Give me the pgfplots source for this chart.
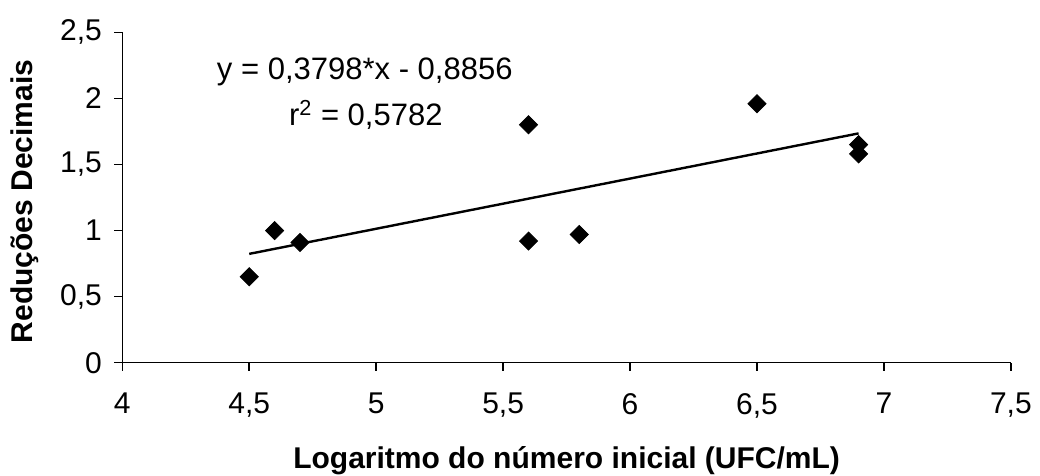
\documentclass[border=0pt]{standalone}
\usepackage{fontspec}
\setmainfont{Liberation Sans}
\usepackage{pgfplots}
\pgfplotsset{compat=1.18}
\begin{document}
\fontsize{15}{18}\selectfont
\begin{tikzpicture}
\path[use as bounding box] (0,0) rectangle (520pt,238pt);
\begin{axis}[
  at={(61.15pt,56.65pt)}, anchor=south west,
  scale only axis, width=444.3pt, height=165.2pt,
  xmin=4, xmax=7.5, ymin=0, ymax=2.5,
  xtick={4,4.5,...,7.5}, ytick={0,0.5,...,2.5},
  axis x line*=bottom, axis y line*=left,
  axis line style={black, line width=0.75pt},
  tick style={black, line width=0.75pt},
  tick align=outside, major tick length=4pt,
  /pgf/number format/assume math mode=true,
  /pgf/number format/use comma,
  /pgf/number format/fixed,
  ticklabel style={font=\fontsize{15}{18}\selectfont},
  xticklabel style={yshift=-6pt},
  yticklabel style={xshift=-1pt},
  xlabel={\textbf{Logaritmo do número inicial (UFC/mL)}},
  ylabel={\textbf{Reduções Decimais}},
  label style={font=\fontsize{15}{18}\selectfont},
  xlabel style={yshift=-4pt},
  ylabel style={yshift=0.5pt, xshift=-2pt},
  clip=false,
]
\addplot[only marks, mark=square*, mark size=3.2pt, mark options={rotate=45, fill=black, draw=black}]
  coordinates {(4.5,0.65) (4.6,1.00) (4.7,0.91) (5.6,1.80) (5.6,0.92) (5.8,0.97) (6.5,1.96) (6.9,1.65) (6.9,1.58)};
\addplot[black, line width=1.2pt] coordinates {(4.5,0.8235) (6.9,1.7350)};
\node[anchor=center, font=\fontsize{15.5}{18}\selectfont] at (axis cs:4.955,2.201) {y = 0,3798*x - 0,8856};
\node[anchor=center, font=\fontsize{15.5}{18}\selectfont] at (axis cs:4.959,1.874) {r\textsuperscript{2} = 0,5782};
\end{axis}
\end{tikzpicture}
\end{document}
